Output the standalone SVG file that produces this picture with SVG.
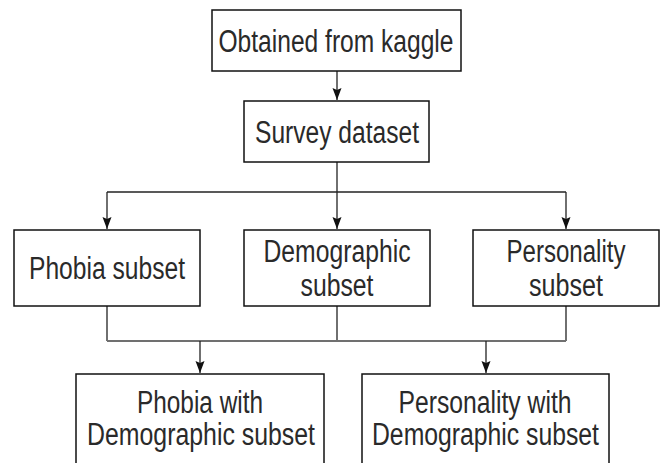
<svg xmlns="http://www.w3.org/2000/svg" width="662" height="463" viewBox="0 0 662 463">
  <style>
    .box { fill: #ffffff; stroke: #111111; stroke-width: 1.5; }
    .lbl { font-family: "Liberation Sans Narrow", "Liberation Sans", Arial, sans-serif; font-size: 31px; fill: #2a2a2a; text-anchor: middle; }
    .edge { fill: none; stroke: #222222; stroke-width: 1.3; }
    .bus { fill: none; stroke: #707070; stroke-width: 2; }
  </style>
  <defs>
    <marker id="ah" viewBox="0 0 12 10" refX="12" refY="5" markerWidth="12" markerHeight="10" markerUnits="userSpaceOnUse" orient="auto">
      <path d="M0,0.5 L12,5 L0,9.5 L2,5 Z" fill="#111111"/>
    </marker>
  </defs>

  <g id="connectors">
    <line class="edge" x1="337" y1="71" x2="337" y2="100" marker-end="url(#ah)"/>
    <line class="edge" x1="337" y1="162" x2="337" y2="192"/>
    <line class="edge" x1="107" y1="192" x2="566" y2="192"/>
    <line class="edge" x1="107" y1="192" x2="107" y2="229" marker-end="url(#ah)"/>
    <line class="edge" x1="337" y1="192" x2="337" y2="229" marker-end="url(#ah)"/>
    <line class="edge" x1="566" y1="192" x2="566" y2="229" marker-end="url(#ah)"/>
    <line class="edge" x1="107" y1="306" x2="107" y2="341"/>
    <line class="edge" x1="337" y1="306" x2="337" y2="341"/>
    <line class="edge" x1="566" y1="306" x2="566" y2="341"/>
    <line class="bus" x1="107" y1="341" x2="566" y2="341"/>
    <line class="edge" x1="200" y1="341" x2="200" y2="373" marker-end="url(#ah)"/>
    <line class="edge" x1="486" y1="341" x2="486" y2="373" marker-end="url(#ah)"/>
  </g>

  <g id="kaggle">
    <rect class="box" x="212" y="10" width="249" height="61"/>
    <text class="lbl" x="336" y="52" textLength="235" lengthAdjust="spacingAndGlyphs">Obtained from kaggle</text>
  </g>

  <g id="survey">
    <rect class="box" x="244" y="101" width="185" height="61"/>
    <text class="lbl" x="337" y="143" textLength="164" lengthAdjust="spacingAndGlyphs">Survey dataset</text>
  </g>

  <g id="phobia">
    <rect class="box" x="14" y="230" width="186" height="76"/>
    <text class="lbl" x="107" y="279" textLength="156" lengthAdjust="spacingAndGlyphs">Phobia subset</text>
  </g>

  <g id="demographic">
    <rect class="box" x="244" y="230" width="186" height="76"/>
    <text class="lbl" x="337" y="262" textLength="147" lengthAdjust="spacingAndGlyphs">Demographic</text>
    <text class="lbl" x="337" y="296" textLength="73" lengthAdjust="spacingAndGlyphs">subset</text>
  </g>

  <g id="personality">
    <rect class="box" x="473" y="230" width="186" height="76"/>
    <text class="lbl" x="566" y="262" textLength="119" lengthAdjust="spacingAndGlyphs">Personality</text>
    <text class="lbl" x="566" y="296" textLength="74" lengthAdjust="spacingAndGlyphs">subset</text>
  </g>

  <g id="phobia-demographic">
    <rect class="box" x="76" y="374" width="248" height="100"/>
    <text class="lbl" x="200" y="413" textLength="126" lengthAdjust="spacingAndGlyphs">Phobia with</text>
    <text class="lbl" x="201" y="445" textLength="228" lengthAdjust="spacingAndGlyphs">Demographic subset</text>
  </g>

  <g id="personality-demographic">
    <rect class="box" x="362" y="374" width="247" height="100"/>
    <text class="lbl" x="485" y="413" textLength="173" lengthAdjust="spacingAndGlyphs">Personality with</text>
    <text class="lbl" x="485.5" y="445" textLength="227" lengthAdjust="spacingAndGlyphs">Demographic subset</text>
  </g>
</svg>
